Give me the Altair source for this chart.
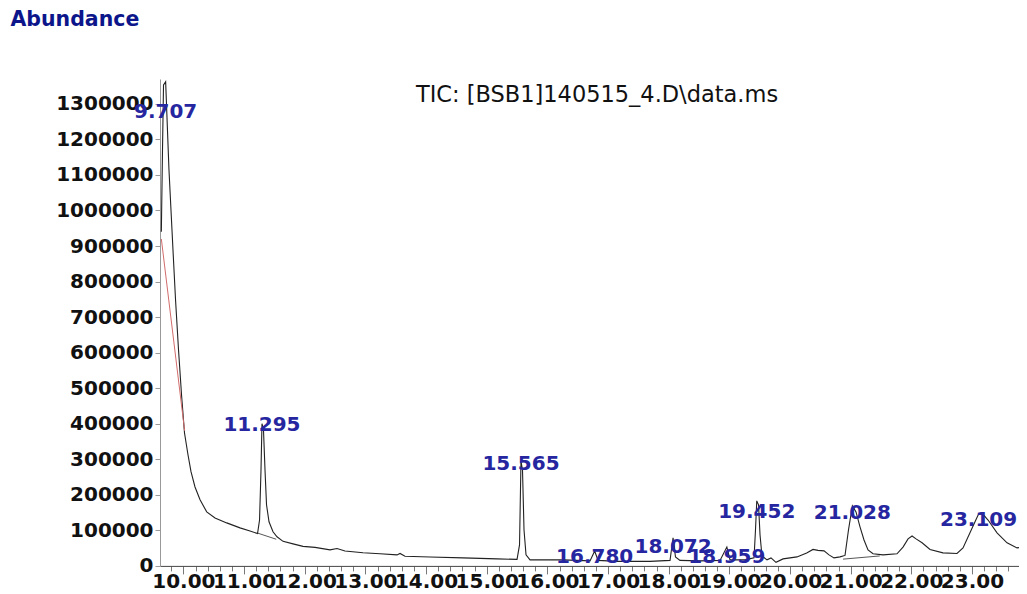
import altair as alt
import pandas as pd

# ---- chromatogram trace (retention time in min, abundance) ----
rt_min = [9.636, 9.655, 9.672, 9.707, 9.762, 9.828, 9.870, 9.919, 9.969, 10.018,
          10.076, 10.125, 10.191, 10.274, 10.384, 10.521, 10.714, 10.933, 11.098, 11.222,
          11.255, 11.279, 11.295, 11.320, 11.345, 11.370, 11.411, 11.477, 11.543, 11.642,
          11.807, 11.972, 12.170, 12.417, 12.532, 12.664, 12.961, 13.241, 13.521, 13.571,
          13.653, 14.065, 14.609, 15.170, 15.500, 15.541, 15.565, 15.590, 15.615, 15.648,
          15.714, 16.258, 16.703, 16.780, 16.835, 17.148, 17.692, 18.022, 18.072, 18.112,
          18.186, 18.516, 18.846, 18.959, 19.011, 19.258, 19.407, 19.431, 19.452, 19.481,
          19.506, 19.538, 19.621, 19.687, 19.769, 19.885, 20.115, 20.275, 20.379, 20.462,
          20.561, 20.643, 20.725, 20.824, 20.907, 20.964, 21.028, 21.088, 21.154, 21.220,
          21.286, 21.369, 21.534, 21.764, 21.863, 21.946, 22.012, 22.078, 22.177, 22.308,
          22.522, 22.753, 22.852, 22.967, 23.050, 23.109, 23.182, 23.265, 23.413, 23.578,
          23.743, 23.775]
abundance = [940000, 1170000, 1353000, 1362000, 1114000, 889000, 749000, 608000, 481000, 374000,
             312000, 265000, 222000, 186000, 152000, 135000, 121000, 107000, 98000, 91000,
             129000, 270000, 400000, 383000, 270000, 172000, 124000, 96000, 82000, 69000,
             62000, 55000, 52000, 45000, 49000, 42000, 37000, 34000, 31000, 35000,
             27000, 25000, 22500, 19700, 18300, 59000, 295000, 270000, 101000, 31000,
             17000, 17000, 14000, 42000, 15500, 12700, 12700, 15500, 79000, 25000,
             15500, 14000, 15500, 53000, 17000, 17000, 22500, 101000, 183000, 172000,
             87000, 28000, 17000, 22500, 10000, 19700, 25300, 36600, 46400, 43600,
             42200, 31000, 22500, 25300, 29500, 101000, 169000, 152000, 110000, 73000,
             45000, 34000, 31000, 34000, 53000, 76000, 84000, 76000, 65000, 46000,
             36600, 35000, 50600, 93000, 124000, 146000, 145000, 129000, 93000, 65000,
             50600, 51500]

# ---- peak annotations ----
peak_rt = [9.707, 11.295, 15.565, 16.780, 18.072, 18.959, 19.452, 21.028, 23.109]
peak_label = ["9.707", "11.295", "15.565", "16.780", "18.072", "18.959", "19.452", "21.028", "23.109"]
label_level = [1277600, 396800, 287000, 25300, 53500, 25300, 152000, 149100, 129400]

# ---- integration baselines ----
base_id = ["b1", "b1", "b2", "b2", "b3", "b3"]
base_rt = [9.636, 10.020, 11.228, 11.530, 20.874, 21.480]
base_ab = [920000, 380000, 92000, 75000, 19000, 28000]
base_kind = ["first", "first", "other", "other", "other", "other"]

# ---- axes ----
x_major = [10, 11, 12, 13, 14, 15, 16, 17, 18, 19, 20, 21, 22, 23]
x_minor_per_major = 5
y_ticks = [0, 100000, 200000, 300000, 400000, 500000, 600000, 700000, 800000,
           900000, 1000000, 1100000, 1200000, 1300000]
title_text = "TIC: [BSB1]140515_4.D\\data.ms"
y_title = "Abundance"

X_MIN, X_MAX = 9.614, 23.775
x_ticks = []
for m in [9] + x_major:
    for k in range(x_minor_per_major):
        v = round(m + k / x_minor_per_major, 1)
        if X_MIN <= v <= X_MAX:
            x_ticks.append(v)

trace = pd.DataFrame({"rt": rt_min, "ab": abundance})
peaks = pd.DataFrame({"rt": peak_rt, "label": peak_label, "ab": label_level})
bases = pd.DataFrame({"id": base_id, "rt": base_rt, "ab": base_ab, "kind": base_kind})

FONT = "DejaVu Sans"
xs = alt.Scale(domain=[X_MIN, X_MAX], nice=False, zero=False)
ys = alt.Scale(domain=[0, 1370000], nice=False)

is_major = "abs(datum.value - round(datum.value)) < 0.01"

x_axis = alt.Axis(
    values=x_ticks,
    labelExpr=f"{is_major} ? format(datum.value, '.2f') : ''",
    tickSize={"condition": {"test": is_major, "value": 8}, "value": 5},
    labelFont=FONT, labelFontSize=20, labelFontWeight="bold", labelColor="#111111",
    labelPadding=-2, labelOverlap=False, labelFlush=False,
    domainColor="#444444", tickColor="#777777", grid=False, title=None,
)
y_axis = alt.Axis(
    values=y_ticks, format="d", tickSize=5, labelPadding=2,
    labelFont=FONT, labelFontSize=20, labelFontWeight="bold", labelColor="#111111",
    labelOverlap=False, domainColor="#999999", tickColor="#999999", grid=False,
    title=y_title, titleAngle=0, titleAlign="left", titleBaseline="middle",
    titleX=-150, titleY=-59, titleFont=FONT, titleFontSize=20.5, titleFontWeight="bold",
    titleColor="#0c168a",
)

line = alt.Chart(trace).mark_line(color="#222222", strokeWidth=1.1)

base_lines = alt.Chart(bases).mark_line(strokeWidth=1).encode(
    detail="id:N",
    color=alt.Color("kind:N", scale=alt.Scale(domain=["first", "other"],
                                              range=["#d26a6a", "#555555"]), legend=None),
)

labels = alt.Chart(peaks).mark_text(
    font=FONT, fontSize=20, fontWeight="bold", color="#2626a0",
    align="center", baseline="middle",
).encode(text="label:N")

title = alt.Chart(pd.DataFrame({"t": [title_text]})).mark_text(
    font=FONT, fontSize=22.5, color="#111111", align="center", baseline="middle",
).encode(x=alt.value(437), y=alt.value(16), text="t:N")

chart = alt.layer(line, base_lines, labels, title).encode(
    x=alt.X("rt:Q", scale=xs, axis=x_axis),
    y=alt.Y("ab:Q", scale=ys, axis=y_axis),
).properties(
    width=859, height=486.9,
    padding={"left": 152, "top": 71, "right": 0, "bottom": 28},
    autosize=alt.AutoSizeParams(type="none"),
    background="white",
).configure_view(stroke=None)

chart.save("out.html", embed_options={"renderer": "svg", "actions": False})
